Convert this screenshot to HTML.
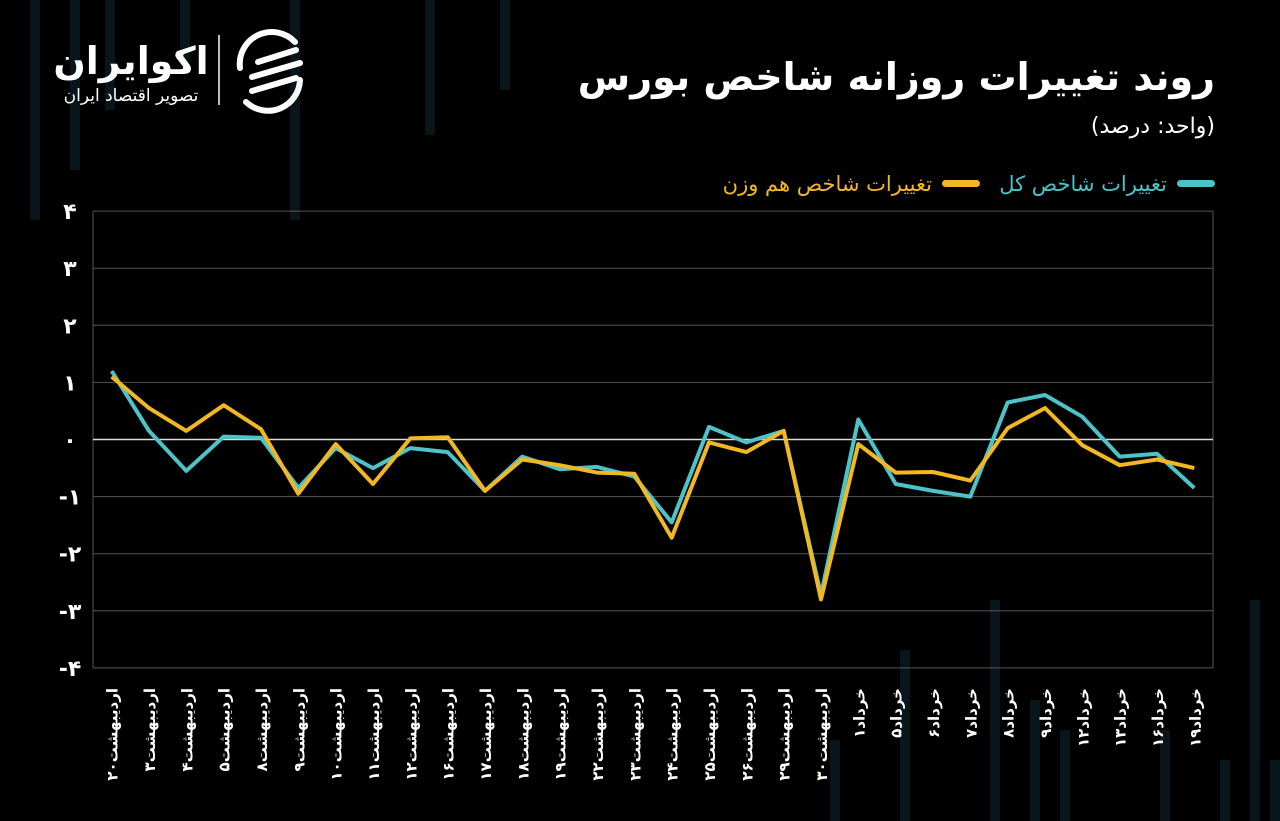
<!DOCTYPE html>
<html><head><meta charset="utf-8"><style>
html,body{margin:0;padding:0;background:#000;}
body{width:1280px;height:821px;overflow:hidden;position:relative;font-family:"Liberation Sans","Noto Sans CJK SC",sans-serif;}
</style></head><body>
<svg id="s" width="1280" height="821" xmlns="http://www.w3.org/2000/svg" style="position:absolute;left:0;top:0">
<rect width="1280" height="821" fill="#000"/>
<g id="bg" fill="#08161b"></g>
<g font-family="'DejaVu Sans','Noto Sans CJK SC',sans-serif" fill="#fff">
<text x="1215" y="90" font-size="38" font-weight="bold" text-anchor="end">روند تغییرات روزانه شاخص بورس</text>
<text x="1215" y="133" font-size="22" text-anchor="end">(واحد: درصد)</text>
<rect x="1177" y="180" width="38" height="7" rx="3.5" fill="#4cc3c9"/>
<text x="1167" y="191" font-size="21" text-anchor="end" fill="#4cc3c9">تغییرات شاخص کل</text>
<rect x="942" y="180" width="38" height="7" rx="3.5" fill="#f2b824"/>
<text x="932" y="191" font-size="21" text-anchor="end" fill="#f2b824">تغییرات شاخص هم وزن</text>
<text x="131" y="74" font-size="38" font-weight="bold" text-anchor="middle">اکوایران</text>
<text x="131" y="101" font-size="17" text-anchor="middle">تصویر اقتصاد ایران</text>
<line x1="219" y1="35" x2="219" y2="105" stroke="#fff" stroke-width="1.5"/>
<g fill="none" stroke="#fff" stroke-width="6" stroke-linecap="round">
<path d="M295 42 A32 32 0 0 0 240 68"/><path d="M246 102 A32 32 0 0 0 300 80"/>
<path d="M258 62 L296 50"/><path d="M252 77 L300 63"/><path d="M252 91 L296 78"/>
</g>
</g>
<g id="chart"></g>
</svg>
<script>
const NS="http://www.w3.org/2000/svg";
const c=document.getElementById('chart'),bg=document.getElementById('bg');
function el(t,a,p){const e=document.createElementNS(NS,t);for(const k in a)e.setAttribute(k,a[k]);(p||c).appendChild(e);return e;}
[[30,0,220],[70,0,170],[105,0,110],[180,0,60],[290,0,220],[425,0,135],[500,0,90],[990,600,821],[1030,700,821],[1060,730,821],[1160,730,821],[1250,600,821],[1270,760,821],[830,740,821],[900,650,821],[1220,760,821]].forEach(b=>el('rect',{x:b[0],y:b[1],width:10,height:b[2]-b[1]},bg));
const X0=93,X1=1213,Y=v=>439.5-v*57.1;
const fa=n=>String(n).replace(/\d/g,d=>'۰۱۲۳۴۵۶۷۸۹'[d]);
for(let v=-4;v<=4;v++){
 if(v!==0) el('line',{x1:X0,x2:X1,y1:Y(v),y2:Y(v),stroke:'#555','stroke-width':1});
 const t=el('text',{x:70,y:Y(v)+8,fill:'#fff','font-size':22,'font-weight':'bold','text-anchor':'middle','font-family':"'DejaVu Sans',sans-serif"});t.textContent=(v<0?'-':'')+fa(Math.abs(v));
}
el('line',{x1:X0,x2:X0,y1:Y(4),y2:Y(-4),stroke:'#555'});
el('line',{x1:X1,x2:X1,y1:Y(4),y2:Y(-4),stroke:'#555'});
el('line',{x1:X0,x2:X1,y1:Y(0),y2:Y(0),stroke:'#ddd','stroke-width':1.5});
const days=[20,3,4,5,8,9,10,11,12,16,17,18,19,22,23,24,25,26,29,30];
const kh=[1,5,6,7,8,9,12,13,16,19];
const labels=days.map(d=>'اردیبهشت'+fa(d)).concat(kh.map(d=>'خرداد'+fa(d)));
const w=(X1-X0)/30,xs=i=>X0+w*(i+0.5);
labels.forEach((l,i)=>{const t=el('text',{transform:`translate(${xs(i)+6},688) rotate(-90)`,fill:'#fff','font-size':15,'font-weight':'bold','text-anchor':'end','font-family':"'DejaVu Sans',sans-serif"});t.textContent=l;});
const teal=[1.2,0.15,-0.55,0.05,0.03,-0.85,-0.15,-0.5,-0.15,-0.22,-0.9,-0.3,-0.52,-0.48,-0.65,-1.45,0.22,-0.05,0.15,-2.72,0.35,-0.78,-0.9,-1.0,0.65,0.78,0.4,-0.3,-0.25,-0.85];
const yel=[1.1,0.55,0.15,0.6,0.18,-0.95,-0.08,-0.78,0.02,0.04,-0.9,-0.35,-0.45,-0.58,-0.6,-1.72,-0.05,-0.22,0.15,-2.8,-0.08,-0.58,-0.57,-0.72,0.2,0.55,-0.1,-0.45,-0.35,-0.5];
const pts=a=>a.map((v,i)=>xs(i).toFixed(1)+','+Y(v).toFixed(1)).join(' ');
el('polyline',{points:pts(teal),fill:'none',stroke:'#4cc3c9','stroke-width':4,'stroke-linejoin':'round'});
el('polyline',{points:pts(yel),fill:'none',stroke:'#f2b824','stroke-width':4,'stroke-linejoin':'round'});
</script>
</body></html>
